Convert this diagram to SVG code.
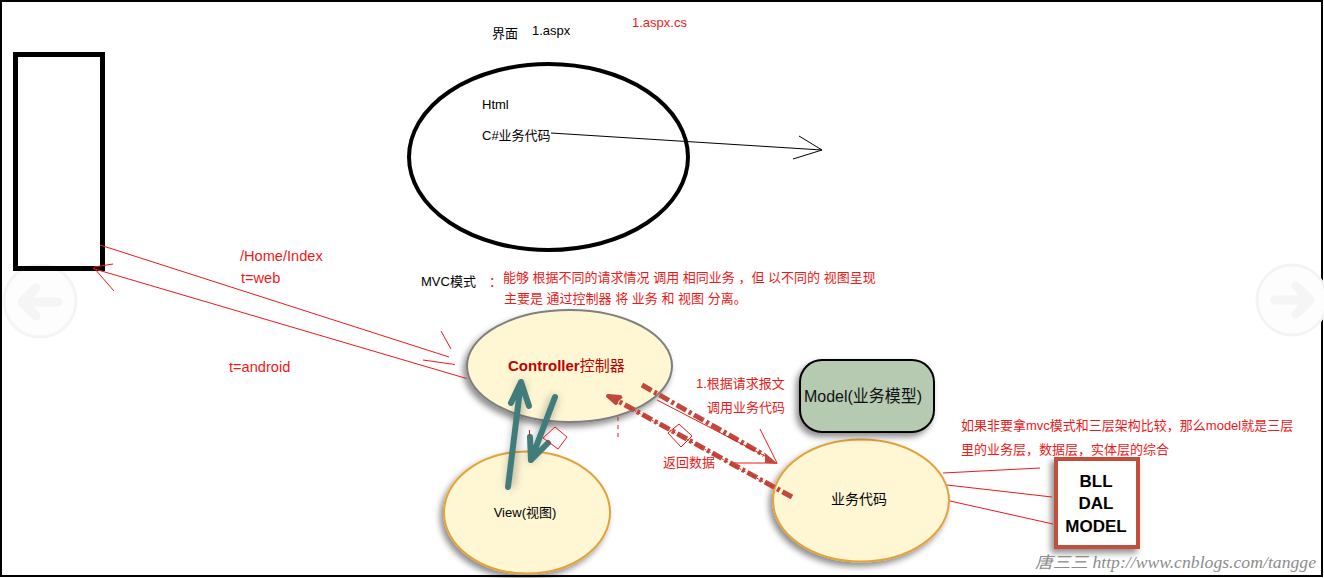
<svg xmlns="http://www.w3.org/2000/svg" width="1324" height="578" viewBox="0 0 1324 578">
<style>
.t{font-family:"Liberation Sans","Noto Sans CJK SC",sans-serif;font-size:13px;fill:#000}
.r{font-family:"Liberation Sans","Noto Sans CJK SC",sans-serif;font-size:13px;fill:#f01818}
.rb{font-size:14.6px}
.rl{stroke:#f01818;stroke-width:1;fill:none}
.dd{stroke:#c0483c;stroke-width:5;fill:none;stroke-dasharray:11 3 3 3}
.teal{stroke:#3f7c7a;stroke-width:6;fill:none;stroke-linecap:round;stroke-linejoin:round}
.ell{fill:#fff7d4}
.nav{fill:#fdfdfd;stroke:#f4f4f4;stroke-width:3}
.navA{fill:none;stroke:#f5f5f5;stroke-width:9;stroke-linecap:round;stroke-linejoin:round}
</style>
<defs>
<filter id="sh" x="-20%" y="-20%" width="140%" height="150%">
<feDropShadow dx="-3" dy="4" stdDeviation="3" flood-color="#000" flood-opacity="0.45"/>
</filter>
<filter id="bl" x="-50%" y="-50%" width="200%" height="200%">
<feGaussianBlur stdDeviation="4"/>
</filter>
</defs>
<rect x="0" y="0" width="1324" height="578" fill="#fff"/>
<rect x="1" y="1" width="1321" height="575" fill="none" stroke="#000" stroke-width="2"/>

<!-- faint nav circles -->
<g id="nav-left">
<circle cx="40" cy="301" r="36" class="nav"/>
<path d="M58 302 H22 M36 288 L22 302 L36 316" class="navA"/>
</g>
<g id="nav-right">
<circle cx="1292" cy="300" r="35" class="nav"/>
<path d="M1275 300 H1310 M1296 286 L1310 300 L1296 314" class="navA"/>
</g>

<g id="client-rect">
<rect x="15.5" y="54.5" width="87" height="214" fill="none" stroke="#000" stroke-width="5"/>
</g>

<g id="webforms">
<ellipse cx="548.5" cy="157" rx="139.5" ry="93" fill="none" stroke="#000" stroke-width="4"/>
<text class="t" x="482" y="108.5">Html</text>
<text class="t" x="482" y="139.5">C#业务代码</text>
</g>
<text class="t" x="492" y="37.5">界面</text>
<text class="t" x="532" y="34.5">1.aspx</text>
<text class="r" x="632" y="27">1.aspx.cs</text>

<text class="t" x="421" y="285.5">MVC模式</text>
<text class="r" x="489" y="285.5">：</text>
<text class="r" x="503" y="281.5">能够 根据不同的请求情况 调用 相同业务 ，但 以不同的 视图呈现</text>
<text class="r" x="504" y="302.5">主要是 通过控制器 将 业务 和 视图 分离。</text>

<text class="r rb" x="240" y="261">/Home/Index</text>
<text class="r rb" x="241" y="283">t=web</text>
<text class="r rb" x="229" y="372">t=android</text>

<g id="controller">
<ellipse cx="569.5" cy="366" rx="102.5" ry="56" class="ell" stroke="#7f7f7f" stroke-width="2" filter="url(#sh)"/>
<text x="508" y="371" style="font-family:'Liberation Sans','Noto Sans CJK SC',sans-serif;font-size:15px;font-weight:bold;fill:#c00000">Controller<tspan style="font-weight:normal">控制器</tspan></text>
</g>

<g id="view">
<ellipse cx="527" cy="512.5" rx="83" ry="61" class="ell" stroke="#e2a33c" stroke-width="2" filter="url(#sh)"/>
<text class="t" x="525" y="517" text-anchor="middle">View(视图)</text>
</g>

<g id="business">
<ellipse cx="861" cy="500.5" rx="88" ry="61" class="ell" stroke="#e2a33c" stroke-width="2" filter="url(#sh)"/>
<text class="t" x="859" y="504" text-anchor="middle" style="font-size:14px">业务代码</text>
</g>

<g id="model">
<rect x="800" y="360" width="134" height="72" rx="22" ry="22" fill="#b6c9b1" stroke="#000" stroke-width="2" filter="url(#sh)"/>
<text x="804" y="402" style="font-family:'Liberation Sans','Noto Sans CJK SC',sans-serif;font-size:17px;fill:#111" textLength="118" lengthAdjust="spacingAndGlyphs">Model(业务模型)</text>
</g>

<g id="layers">
<rect x="1056" y="459" width="82" height="88" fill="#fff" stroke="#c0503e" stroke-width="4" filter="url(#sh)"/>
<g style="font-family:'Liberation Sans',sans-serif;font-size:17px;font-weight:bold;fill:#000" text-anchor="middle">
<text x="1096" y="487">BLL</text>
<text x="1096" y="509">DAL</text>
<text x="1096" y="532">MODEL</text>
</g>
</g>

<text class="r" x="961" y="429.5">如果非要拿mvc模式和三层架构比较，那么model就是三层</text>
<text class="r" x="961" y="453.5">里的业务层，数据层，实体层的综合</text>
<text class="r" x="696" y="387.5">1.根据请求报文</text>
<text class="r" x="707" y="412">调用业务代码</text>
<text class="r" x="663" y="467">返回数据</text>

<text x="1035" y="568" style="font-family:'Liberation Serif','Noto Sans CJK SC',serif;font-size:16px;font-style:italic;fill:#8c8c8c" textLength="281" lengthAdjust="spacingAndGlyphs">唐三三 http://www.cnblogs.com/tangge</text>

<g id="connectors">
<!-- aspx -> aspx.cs -->
<path d="M551 133 L822 150 M799 136 L822 150 L793 159" stroke="#000" stroke-width="1" fill="none"/>
<!-- client request lines -->
<path class="rl" d="M100 245 L449 357 M93 268.5 L466.5 378.5 M441 331 L451 349 M423 360 L455 364.5 M94 267 L113 264 M94 268 L114 291"/>
<!-- teal arrows with blurred shadows -->
<g opacity="0.35" filter="url(#bl)">
<path d="M510 487 L522 382" stroke="#333" stroke-width="8" fill="none"/>
<path d="M555 396 L531 461" stroke="#333" stroke-width="8" fill="none"/>
</g>
<path class="teal" d="M508 487 L521 382 M511 403 L521 382 L529 406"/>
<path class="teal" d="M555 397 L531 460 M530 437 L531 460 L548 443"/>
<!-- diamonds and marks -->
<path class="rl" d="M555 427 L567 437 L558 449 L543 438 Z"/>
<path class="rl" d="M679 424 L692 436 L681 447 L668 433 Z"/>
<path class="rl" d="M529.5 430 L529.5 436"/>
<path class="rl" d="M618 417 L618 440" stroke-dasharray="4 4"/>
<!-- call business code -->
<path class="dd" d="M642 385 L764 455"/>
<path class="rl" d="M657 400 L765 456 M760 429 L777 463 M733 463 L777 463"/>
<polygon points="765,453 778,464 765,463" fill="#c0483c"/>
<!-- return data -->
<path class="dd" d="M792 497 L618 401"/>
<path class="rl" d="M630 408 L773 487" stroke-dasharray="2 3"/>
<polygon points="608,396 623,397 616,404" fill="#c0483c"/>
<path d="M608 396 L620 397 M608 396 L616 403" stroke="#c0483c" stroke-width="4" stroke-linecap="round"/>
<!-- business -> layers -->
<path class="rl" d="M943 473 L1040 468 M947 485 L1052 497 M950 501 L1053 524"/>
</g>
</svg>
